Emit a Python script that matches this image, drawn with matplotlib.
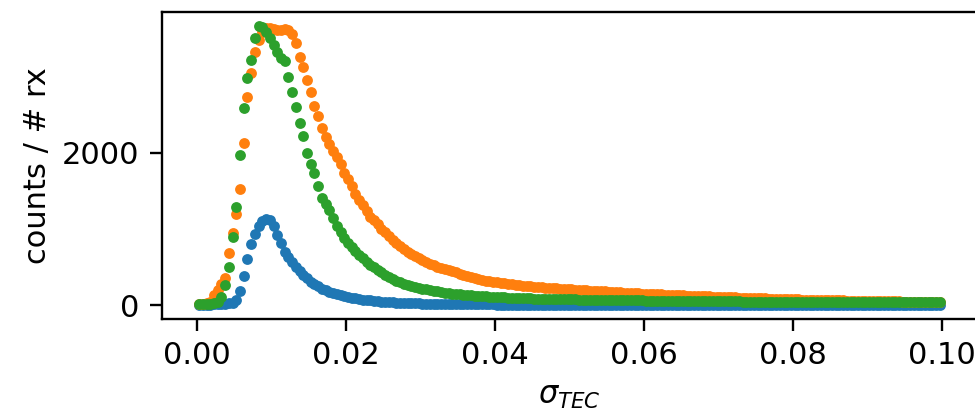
import matplotlib
matplotlib.use("Agg")
import matplotlib.pyplot as plt
import numpy as np

# 200 histogram bins over sigma_TEC in [0, 0.1]; values are counts / # rx
bin_edges = np.linspace(0.0, 0.1, 201)

blue_counts = [
    3, 4, 5, 6, 8, 10, 13, 17, 22, 30,
    60, 180, 380, 600, 800, 930, 1040, 1100, 1135, 1120,
    1040, 920, 810, 700, 630, 560, 500, 450, 400, 350,
    306, 275, 245, 215, 192, 172, 155, 140, 127, 115,
    104, 95, 86, 79, 72, 66, 60, 55, 50, 46,
    42, 39, 36, 33, 30, 28, 26, 24, 22, 20,
    19, 18, 17, 16, 15, 14, 13, 12, 12, 11,
    10, 10, 9, 9, 8, 8, 8, 7, 7, 7,
    6, 6, 6, 6, 5, 5, 5, 5, 5, 4,
    4, 4, 4, 4, 4, 3, 3, 3, 3, 3,
    3, 3, 3, 3, 3, 3, 2, 2, 2, 2,
    2, 2, 2, 2, 2, 2, 2, 2, 2, 2,
    2, 2, 2, 2, 1, 1, 1, 1, 1, 1,
    1, 1, 1, 1, 1, 1, 1, 1, 1, 1,
    1, 1, 1, 1, 1, 1, 1, 1, 1, 1,
    1, 1, 1, 1, 1, 1, 1, 1, 1, 1,
    1, 1, 1, 1, 1, 1, 1, 1, 1, 1,
    1, 1, 1, 1, 1, 1, 1, 1, 1, 1,
    1, 1, 1, 1, 1, 1, 1, 1, 1, 1,
    1, 1, 1, 1, 1, 1, 1, 1, 1, 1,
]

orange_counts = [
    8, 12, 20, 45, 131, 200, 280, 360, 683, 950,
    1195, 1520, 2124, 2735, 3050, 3327, 3480, 3580, 3633, 3640,
    3625, 3612, 3615, 3630, 3611, 3560, 3437, 3261, 3120, 2950,
    2800, 2620, 2480, 2330, 2200, 2110, 2020, 1940, 1850, 1740,
    1650, 1560, 1460, 1380, 1310, 1240, 1160, 1110, 1060, 1000,
    960, 910, 860, 815, 775, 735, 700, 670, 640, 615,
    590, 567, 545, 524, 505, 488, 472, 457, 443, 428,
    405, 390, 376, 362, 349, 337, 328, 318, 311, 304,
    297, 290, 284, 278, 272, 266, 261, 256, 251, 246,
    241, 237, 233, 229, 225, 221, 218, 214, 211, 208,
    205, 202, 199, 196, 193, 190, 187, 184, 181, 178,
    175, 172, 169, 166, 164, 161, 158, 156, 153, 151,
    148, 146, 144, 141, 139, 137, 135, 132, 130, 128,
    126, 124, 122, 120, 118, 116, 114, 112, 110, 108,
    106, 104, 103, 101, 99, 97, 96, 94, 92, 91,
    89, 88, 86, 85, 83, 82, 80, 79, 77, 76,
    75, 73, 72, 71, 70, 68, 67, 66, 65, 64,
    63, 62, 61, 60, 59, 58, 57, 56, 55, 54,
    53, 52, 51, 51, 50, 49, 48, 47, 47, 46,
    45, 45, 44, 43, 43, 42, 42, 41, 40, 40,
]

green_counts = [
    10, 12, 14, 18, 25, 45, 110, 260, 503, 897,
    1291, 1970, 2583, 2977, 3217, 3502, 3665, 3650, 3590, 3500,
    3414, 3320, 3240, 3200, 3000, 2800, 2600, 2386, 2220, 2000,
    1850, 1740, 1560, 1400, 1330, 1250, 1140, 1040, 960, 880,
    820, 765, 715, 660, 615, 570, 530, 495, 460, 430,
    400, 370, 340, 318, 298, 280, 264, 250, 237, 225,
    214, 204, 195, 186, 178, 170, 163, 157, 151, 145,
    140, 135, 131, 127, 123, 119, 116, 113, 110, 107,
    104, 102, 100, 98, 96, 94, 92, 90, 88, 87,
    85, 84, 82, 81, 80, 79, 78, 77, 76, 75,
    74, 73, 72, 71, 71, 70, 69, 68, 68, 67,
    66, 65, 64, 64, 63, 62, 62, 61, 60, 60,
    59, 59, 58, 57, 57, 56, 56, 55, 55, 54,
    54, 53, 53, 52, 52, 51, 51, 50, 50, 49,
    49, 48, 48, 48, 47, 47, 46, 46, 46, 45,
    45, 45, 44, 44, 44, 43, 43, 43, 42, 42,
    42, 42, 41, 41, 41, 40, 40, 40, 40, 39,
    39, 39, 39, 38, 38, 38, 38, 38, 37, 37,
    37, 37, 37, 36, 36, 36, 36, 36, 36, 35,
    35, 35, 35, 35, 35, 34, 34, 34, 34, 34,
]

x_ticks = [0.00, 0.02, 0.04, 0.06, 0.08, 0.10]
x_tick_labels = ["0.00", "0.02", "0.04", "0.06", "0.08", "0.10"]
y_ticks = [0, 2000]
y_tick_labels = ["0", "2000"]
series_colors = ["#1f77b4", "#ff7f0e", "#2ca02c"]

bin_centers = 0.5 * (bin_edges[:-1] + bin_edges[1:])

W, H = 975, 417
fig = plt.figure(figsize=(W / 100, H / 100), dpi=100)
left_px, right_px, top_px, bottom_px = 162, 977, 12, 318.5
ax = fig.add_axes([left_px / W, 1 - bottom_px / H,
                   (right_px - left_px) / W, (bottom_px - top_px) / H])

for vals, col in zip([blue_counts, orange_counts, green_counts], series_colors):
    ax.plot(bin_centers, vals, linestyle="none", marker="o", ms=7.8, mew=0, color=col)

ax.set_xlim(-0.00473, 0.10473)
ax.set_ylim(-177, 3848)
ax.set_xticks(x_ticks)
ax.set_xticklabels(x_tick_labels)
ax.set_yticks(y_ticks)
ax.set_yticklabels(y_tick_labels)

fs = 22
ax.tick_params(axis="both", labelsize=fs, length=8.4, width=1.7, pad=7.7, color="black")
for s in ax.spines.values():
    s.set_linewidth(1.7)
    s.set_color("black")

ax.set_xlabel(r"$\sigma_{TEC}$", fontsize=fs, labelpad=8.5)
ax.set_ylabel("counts / # rx", fontsize=fs, labelpad=7.5)

fig.savefig("out.png", dpi=100)
